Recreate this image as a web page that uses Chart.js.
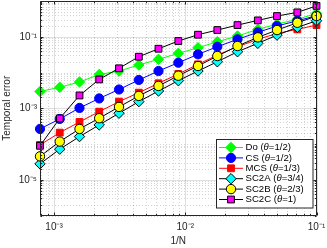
<!DOCTYPE html>
<html>
<head>
<meta charset="UTF-8" />
<title>Temporal error</title>
<script src="https://cdn.jsdelivr.net/npm/chart.js"></script>
<style>
  html, body { margin: 0; padding: 0; background: #fff; }
  #wrap { width: 327px; height: 248px; position: relative; }
</style>
</head>
<body>
<div id="wrap"><canvas id="chart"></canvas></div>
<script>
// time steps N (1/N on the x axis)
const N = [1280, 905, 640, 453, 320, 226, 160, 113, 80, 57, 40, 28, 20, 14, 10];

// temporal error per scheme, same order as N
const errDo   = [2.94e-3, 3.86e-3, 5.43e-3, 8.8e-3, 1.10e-2, 1.62e-2, 2.34e-2, 3.44e-2, 4.93e-2, 7.25e-2, 0.105, 0.161, 0.226, 0.306, 0.451];
const errCS   = [2.64e-4, 5.02e-4, 1.02e-3, 1.88e-3, 3.35e-3, 6.18e-3, 1.10e-2, 1.88e-2, 3.22e-2, 5.26e-2, 8.46e-2, 0.133, 0.199, 0.280, 0.386];
const errMCS  = [9.4e-5, 2.08e-4, 4.14e-4, 8.04e-4, 1.53e-3, 2.73e-3, 4.99e-3, 9.08e-3, 1.69e-2, 3.08e-2, 5.26e-2, 8.46e-2, 0.124, 0.161, 0.212];
const errSC2A = [2.78e-5, 7.16e-5, 1.61e-4, 3.42e-4, 7.25e-4, 1.53e-3, 3.04e-3, 5.90e-3, 1.10e-2, 2.00e-2, 3.81e-2, 6.55e-2, 0.111, 0.183, 0.280];
const errSC2B = [4.51e-5, 1.17e-4, 2.64e-4, 5.26e-4, 1.09e-3, 2.21e-3, 4.20e-3, 8.14e-3, 1.52e-2, 2.89e-2, 5.50e-2, 9.62e-2, 0.154, 0.246, 0.379];
const errSC2C = [8.9e-5, 5.2e-4, 2.28e-3, 6.4e-3, 1.31e-2, 2.76e-2, 4.62e-2, 7.59e-2, 0.114, 0.154, 0.212, 0.287, 0.379, 0.481, 0.730];

const names  = ['Do', 'CS', 'MCS', 'SC2A', 'SC2B', 'SC2C'];
const thetas = ['1/2', '1/2', '1/3', '3/4', '2/3', '1'];

const xTicks = [1e-3, 1e-2, 1e-1];
const yTicks = [1e-5, 1e-3, 1e-1];
const xMin = 1 / 1280, xMax = 0.1;
const yMin = 1e-6, yMax = 1;

const FONT = '"Liberation Sans", Arial, Helvetica, sans-serif';
const AX = '#262626';

const styles = [
  { line: '#00ff00', fill: '#00ff00', edge: '#00ff00', shape: 'rectRot', r: 5.2 },
  { line: '#0000ff', fill: '#0000ff', edge: '#0000ff', shape: 'circle', r: 4.6 },
  { line: '#ff0000', fill: '#ff0000', edge: '#ff0000', shape: 'rect', r: 4.8 },
  { line: '#000000', fill: '#00ffff', edge: '#000000', shape: 'rectRot', r: 5.2 },
  { line: '#000000', fill: '#ffff00', edge: '#000000', shape: 'circle', r: 4.7 },
  { line: '#000000', fill: '#ff00ff', edge: '#000000', shape: 'rect', r: 4.8 }
];
const series = [errDo, errCS, errMCS, errSC2A, errSC2B, errSC2C];

const sup = { '-': '\u207B', '0': '\u2070', '1': '\u00B9', '2': '\u00B2', '3': '\u00B3', '4': '\u2074', '5': '\u2075', '6': '\u2076' };
function powLabel(v) {
  const e = String(Math.round(Math.log10(v)));
  return '10' + e.split('').map(c => sup[c]).join('');
}

function drawMarker(ctx, st, x, y) {
  const r = st.r;
  ctx.beginPath();
  if (st.shape === 'circle') {
    ctx.arc(x, y, r, 0, Math.PI * 2);
  } else if (st.shape === 'rect') {
    const s = Math.SQRT1_2 * r;
    ctx.rect(x - s, y - s, 2 * s, 2 * s);
  } else {
    ctx.moveTo(x, y - r); ctx.lineTo(x + r, y); ctx.lineTo(x, y + r); ctx.lineTo(x - r, y);
    ctx.closePath();
  }
  ctx.fillStyle = st.fill; ctx.fill();
  ctx.lineWidth = 1; ctx.strokeStyle = st.edge; ctx.stroke();
}

function minorValues(lo, hi) {
  const out = [];
  for (let e = Math.floor(Math.log10(lo)); e <= Math.ceil(Math.log10(hi)); e++) {
    for (let m = 1; m <= 9; m++) {
      const v = m * Math.pow(10, e);
      if (v >= lo * 0.999 && v <= hi * 1.001) out.push(v);
    }
  }
  return out;
}
const isMajor = (list, v) => list.some(t => Math.abs(t - v) / t < 1e-6);

// grid, box and inward tick marks like the original axes
const axesPlugin = {
  id: 'axesPlugin',
  beforeDatasetsDraw(chart) {
    const { ctx, chartArea: a, scales: { x, y } } = chart;
    ctx.save();
    ctx.lineWidth = 1;
    // minor dotted grid
    ctx.strokeStyle = 'rgba(38,38,38,0.2)';
    ctx.setLineDash([1, 2]);
    minorValues(xMin, xMax).forEach(v => {
      if (isMajor(xTicks, v)) return;
      const px = Math.round(x.getPixelForValue(v)) + 0.5;
      ctx.beginPath(); ctx.moveTo(px, a.top); ctx.lineTo(px, a.bottom); ctx.stroke();
    });
    minorValues(yMin, yMax).forEach(v => {
      if (isMajor(yTicks, v)) return;
      const py = Math.round(y.getPixelForValue(v)) + 0.5;
      ctx.beginPath(); ctx.moveTo(a.left, py); ctx.lineTo(a.right, py); ctx.stroke();
    });
    // major grid
    ctx.setLineDash([]);
    ctx.strokeStyle = 'rgba(38,38,38,0.15)';
    xTicks.forEach(v => {
      const px = Math.round(x.getPixelForValue(v)) + 0.5;
      ctx.beginPath(); ctx.moveTo(px, a.top); ctx.lineTo(px, a.bottom); ctx.stroke();
    });
    yTicks.forEach(v => {
      const py = Math.round(y.getPixelForValue(v)) + 0.5;
      ctx.beginPath(); ctx.moveTo(a.left, py); ctx.lineTo(a.right, py); ctx.stroke();
    });
    ctx.restore();
  },
  afterDatasetsDraw(chart) {
    const { ctx, chartArea: a, scales: { x, y } } = chart;
    ctx.save();
    ctx.strokeStyle = AX;
    ctx.lineWidth = 1;
    ctx.beginPath();
    const L = Math.round(a.left) + 0.5, R = Math.round(a.right) - 0.5;
    const T = Math.round(a.top) + 0.5, B = Math.round(a.bottom) - 0.5;
    ctx.rect(L, T, R - L, B - T);
    ctx.stroke();
    // tick marks pointing inward
    const tick = (v, major, isX) => {
      const len = major ? 3 : 1.7;
      ctx.beginPath();
      if (isX) {
        const px = Math.round(x.getPixelForValue(v)) + 0.5;
        ctx.moveTo(px, B); ctx.lineTo(px, B - len);
        ctx.moveTo(px, T); ctx.lineTo(px, T + len);
      } else {
        const py = Math.round(y.getPixelForValue(v)) + 0.5;
        ctx.moveTo(L, py); ctx.lineTo(L + len, py);
        ctx.moveTo(R, py); ctx.lineTo(R - len, py);
      }
      ctx.stroke();
    };
    minorValues(xMin, xMax).forEach(v => tick(v, isMajor(xTicks, v), true));
    minorValues(yMin, yMax).forEach(v => tick(v, isMajor(yTicks, v), false));
    ctx.restore();
  }
};

// legend box in the lower right corner, drawn with line + marker samples
const legendPlugin = {
  id: 'matLegend',
  afterDraw(chart) {
    const ctx = chart.ctx;
    const bx = 216.5, by = 139.5, bw = 96.5, bh = 68.5;
    ctx.save();
    ctx.fillStyle = '#fff';
    ctx.fillRect(bx, by, bw, bh);
    ctx.strokeStyle = AX; ctx.lineWidth = 1;
    ctx.strokeRect(bx, by, bw, bh);
    ctx.textBaseline = 'middle';
    names.forEach((nm, i) => {
      const st = styles[i];
      const yy = by + 8 + i * 10.4;
      ctx.strokeStyle = st.line; ctx.lineWidth = 1;
      ctx.beginPath(); ctx.moveTo(219, yy); ctx.lineTo(243, yy); ctx.stroke();
      drawMarker(ctx, st, 231, yy);
      let tx = 245.5;
      ctx.fillStyle = '#000';
      ctx.font = '9.6px ' + FONT;
      const p1 = nm + ' (';
      ctx.fillText(p1, tx, yy); tx += ctx.measureText(p1).width;
      ctx.font = 'italic 9.6px ' + FONT;
      ctx.fillText('\u03B8', tx, yy); tx += ctx.measureText('\u03B8').width;
      ctx.font = '9.6px ' + FONT;
      ctx.fillText('=' + thetas[i] + ')', tx, yy);
    });
    ctx.restore();
  }
};

const datasets = series.map((d, i) => ({
  label: names[i] + ' (\u03B8=' + thetas[i] + ')',
  data: d.map((v, k) => ({ x: 1 / N[k], y: v })),
  borderColor: styles[i].line,
  borderWidth: 1,
  pointStyle: styles[i].shape,
  pointRadius: styles[i].r,
  pointBackgroundColor: styles[i].fill,
  pointBorderColor: styles[i].edge,
  pointBorderWidth: 1,
  order: 6 - i,
  clip: false,
  tension: 0
}));

new Chart(document.getElementById('chart'), {
  type: 'line',
  data: { datasets },
  options: {
    responsive: true,
    maintainAspectRatio: false,
    animation: false,
    events: [],
    layout: { autoPadding: false, padding: { top: 1, right: 10.5, left: 0, bottom: 0 } },
    plugins: { legend: { display: false }, tooltip: { enabled: false } },
    scales: {
      x: {
        type: 'logarithmic',
        min: xMin, max: xMax,
        grid: { display: false, drawTicks: false },
        border: { display: false },
        afterBuildTicks: s => { s.ticks = xTicks.map(v => ({ value: v })); },
        afterFit: s => { s.height = 32.5; s.paddingLeft = 0; s.paddingRight = 0; },
        ticks: {
          autoSkip: false, maxRotation: 0, padding: 6, color: AX,
          font: { family: FONT, size: 10 },
          callback: v => powLabel(v)
        },
        title: { display: true, text: '1/N', color: AX, font: { family: FONT, size: 10 }, padding: { top: 0, bottom: 1 } }
      },
      y: {
        type: 'logarithmic',
        min: yMin, max: yMax,
        grid: { display: false, drawTicks: false },
        border: { display: false },
        afterBuildTicks: s => { s.ticks = yTicks.map(v => ({ value: v })); },
        afterFit: s => { s.width = 40; s.paddingTop = 0; s.paddingBottom = 0; },
        ticks: {
          autoSkip: false, padding: 3, color: AX,
          font: { family: FONT, size: 10 },
          callback: v => powLabel(v)
        },
        title: { display: true, text: 'Temporal error', color: AX, font: { family: FONT, size: 10 }, padding: { top: 1, bottom: 0 } }
      }
    }
  },
  plugins: [axesPlugin, legendPlugin]
});
</script>
</body>
</html>
